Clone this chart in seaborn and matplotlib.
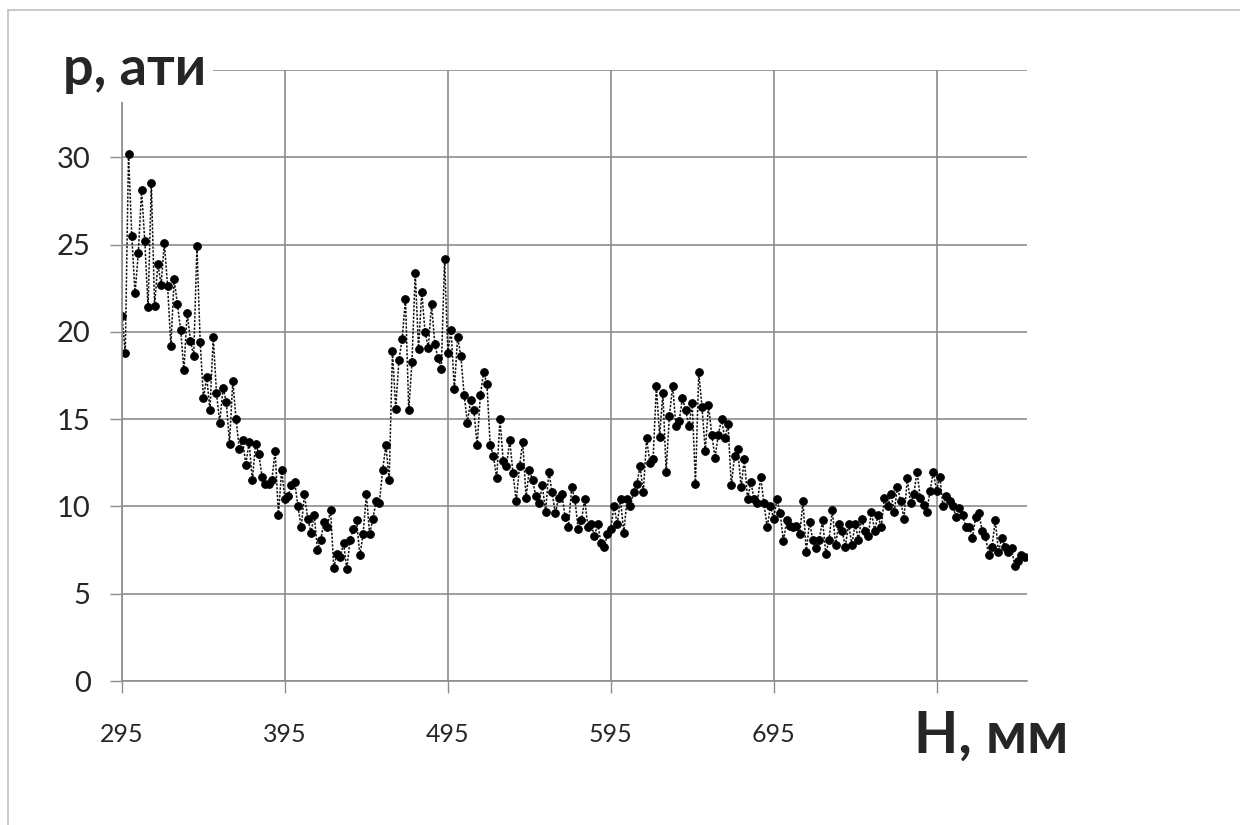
import seaborn as sns
import matplotlib.pyplot as plt
from matplotlib.lines import Line2D

# depth H (mm), every 2 mm, and pressure p (ati)
h_mm = list(range(295, 851, 2))
pressure = [
    20.9, 18.8, 30.2, 25.5, 22.2, 24.5, 28.1, 25.2, 21.4, 28.5,   # 295-313
    21.5, 23.9, 22.7, 25.1, 22.6, 19.2, 23.0, 21.6, 20.1, 17.8,   # 315-333
    21.1, 19.5, 18.6, 24.9, 19.4, 16.2, 17.4, 15.5, 19.7, 16.5,   # 335-353
    14.8, 16.8, 16.0, 13.6, 17.2, 15.0, 13.3, 13.8, 12.4, 13.7,   # 355-373
    11.5, 13.6, 13.0, 11.7, 11.3, 11.3, 11.5, 13.2, 9.5, 12.1,    # 375-393
    10.4, 10.6, 11.2, 11.4, 10.0, 8.8, 10.7, 9.3, 8.5, 9.5,       # 395-413
    7.5, 8.1, 9.1, 8.8, 9.8, 6.5, 7.3, 7.1, 7.9, 6.4,             # 415-433
    8.1, 8.7, 9.2, 7.2, 8.4, 10.7, 8.4, 9.3, 10.3, 10.2,          # 435-453
    12.1, 13.5, 11.5, 18.9, 15.6, 18.4, 19.6, 21.9, 15.5, 18.3,   # 455-473
    23.4, 19.0, 22.3, 20.0, 19.1, 21.6, 19.3, 18.5, 17.9, 24.2,   # 475-493
    18.8, 20.1, 16.7, 19.7, 18.6, 16.4, 14.8, 16.1, 15.5, 13.5,   # 495-513
    16.4, 17.7, 17.0, 13.5, 12.9, 11.6, 15.0, 12.6, 12.3, 13.8,   # 515-533
    11.9, 10.3, 12.3, 13.7, 10.5, 12.1, 11.5, 10.6, 10.2, 11.2,   # 535-553
    9.7, 12.0, 10.8, 9.6, 10.5, 10.7, 9.4, 8.8, 11.1, 10.4,       # 555-573
    8.7, 9.2, 10.4, 8.8, 9.0, 8.3, 9.0, 7.9, 7.7, 8.4,            # 575-593
    8.7, 10.0, 9.0, 10.4, 8.5, 10.4, 10.0, 10.8, 11.3, 12.3,      # 595-613
    10.8, 13.9, 12.5, 12.7, 16.9, 14.0, 16.5, 12.0, 15.2, 16.9,   # 615-633
    14.6, 14.9, 16.2, 15.5, 14.6, 15.9, 11.3, 17.7, 15.7, 13.2,   # 635-653
    15.8, 14.1, 12.8, 14.1, 15.0, 13.9, 14.7, 11.2, 12.9, 13.3,   # 655-673
    11.1, 12.7, 10.4, 11.4, 10.4, 10.2, 11.7, 10.2, 8.8, 10.0,    # 675-693
    9.3, 10.4, 9.6, 8.0, 9.2, 8.9, 8.8, 8.9, 8.4, 10.3,           # 695-713
    7.4, 9.1, 8.1, 7.6, 8.1, 9.2, 7.3, 8.1, 9.8, 7.8,             # 715-733
    9.0, 8.6, 7.7, 9.0, 7.8, 9.0, 8.1, 9.3, 8.6, 8.3,             # 735-753
    9.7, 8.6, 9.5, 8.8, 10.5, 10.0, 10.7, 9.7, 11.1, 10.3,        # 755-773
    9.3, 11.6, 10.2, 10.7, 12.0, 10.5, 10.1, 9.7, 10.9, 12.0,     # 775-793
    10.9, 11.7, 10.0, 10.6, 10.3, 10.0, 9.4, 9.9, 9.5, 8.8,       # 795-813
    8.8, 8.2, 9.4, 9.6, 8.6, 8.3, 7.2, 7.7, 9.2, 7.4,             # 815-833
    8.2, 7.7, 7.4, 7.6, 6.6, 6.9, 7.2, 7.1,                       # 835-849
]

x_ticks = [295, 395, 495, 595, 695, 795]
x_tick_labels = ['295', '395', '495', '595', '695', '']
y_ticks = [0, 5, 10, 15, 20, 25, 30, 35]
y_tick_labels = ['0', '5', '10', '15', '20', '25', '30', '']

sns.set_style('white')
plt.rcParams['font.family'] = ['Lato', 'Open Sans', 'DejaVu Sans']

grid_col = '#8c8c8c'

fig = plt.figure(figsize=(12.4, 8.25), dpi=100)
ax = fig.add_axes([122 / 1240, 144 / 825, 905 / 1240, 611 / 825])

sns.lineplot(x=h_mm, y=pressure, ax=ax, sort=False, estimator=None,
             color='#111111', linestyle=(0, (1.5, 1)), linewidth=1.1,
             marker='o', markersize=5.5, markeredgecolor='black',
             markerfacecolor='black')

ax.set_xlim(295, 850.5)
ax.set_ylim(0, 35)
ax.set_xticks(x_ticks)
ax.set_xticklabels(x_tick_labels, fontsize=18)
ax.set_yticks(y_ticks)
ax.set_yticklabels(y_tick_labels, fontsize=21)
ax.grid(True, color=grid_col, linewidth=1.2)
ax.set_axisbelow(True)
for side in ['top', 'right']:
    ax.spines[side].set_visible(False)
for side in ['left', 'bottom']:
    ax.spines[side].set_color(grid_col)
    ax.spines[side].set_linewidth(1.2)
ax.tick_params(axis='x', direction='out', length=8.6, width=1, color=grid_col, pad=22, bottom=True)
ax.tick_params(axis='y', direction='out', length=8.6, width=1, color=grid_col, pad=14, left=True)
ax.set_xlabel('')
ax.set_ylabel('')

# axis titles in the corners
fig.text(63 / 1240, 1 - 70 / 825, 'р, ати', fontsize=39, fontweight='bold',
         ha='left', va='center',
         bbox=dict(facecolor='white', edgecolor='none', pad=5))
fig.text(914 / 1240, 1 - 736 / 825, 'H, мм', fontsize=41.5, fontweight='bold',
         ha='left', va='center')

# light frame around the chart
fig.add_artist(Line2D([8 / 1240, 8 / 1240], [0, 1 - 10 / 825], color='#c0c0c0', lw=1.2))
fig.add_artist(Line2D([8 / 1240, 1], [1 - 10 / 825, 1 - 10 / 825], color='#c0c0c0', lw=1.2))

fig.savefig('out.png', dpi=100)
